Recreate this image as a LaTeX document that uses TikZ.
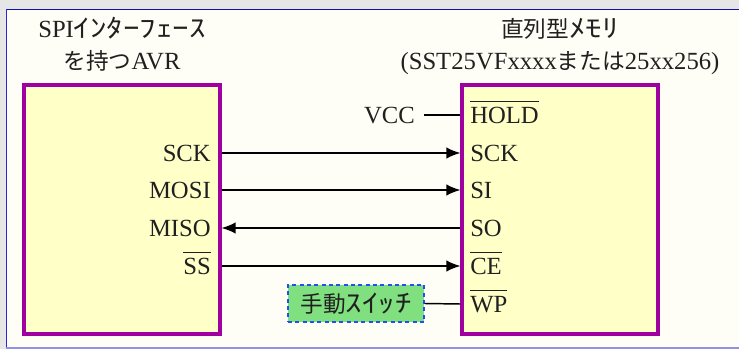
\documentclass[tikz,border=0pt]{standalone}
\usepackage{fontspec}
\usepackage{graphicx}
\setmainfont{Liberation Serif}
\newfontfamily\jpfont{Noto Sans CJK JP}
\usetikzlibrary{arrows.meta}
\newcommand\jtxt[1]{{\jpfont\fontsize{17}{20}\selectfont #1}}
\newcommand\ktxt[1]{\scalebox{1.3}[1]{\jpfont\fontsize{19}{22}\selectfont #1}}
\newcommand\myovl[1]{\vbox{\hrule height 0.8pt\kern 3.5pt\hbox{#1}}}
\definecolor{bggray}{HTML}{E6E6E6}
\definecolor{panelfill}{HTML}{FEFEF6}
\definecolor{topblue}{HTML}{1010B0}
\definecolor{leftblue}{HTML}{2828D8}
\definecolor{botblue}{HTML}{9090E8}
\definecolor{chipline}{HTML}{A000A0}
\definecolor{chipfill}{HTML}{FFFFC8}
\definecolor{swfill}{HTML}{80E080}
\definecolor{swline}{HTML}{2050F0}
\definecolor{inkc}{HTML}{202020}
\tikzset{
  basefont/.style={font=\fontsize{18.5}{22}\selectfont, text=inkc},
  chip/.style={draw=chipline, fill=chipfill, line width=2.3pt, minimum width=147pt, minimum height=186.75pt, inner sep=0pt},
  lab/.style={basefont, inner sep=0pt, text height=12.25pt, text depth=0pt},
  ttl/.style={basefont, inner sep=0pt, anchor=base},
  sig/.style={draw=black, line width=1.1pt},
  tip/.style={-{Latex[length=10.5pt,width=8.5pt]}},
  sw/.style={basefont, draw=swline, fill=swfill, dashed, dash pattern=on 3pt off 2.5pt, line width=1.1pt, minimum width=102pt, minimum height=27.75pt, inner sep=0pt}
}
\begin{document}
\begin{tikzpicture}[x=0.75pt,y=-0.75pt]
\useasboundingbox (0,0) rectangle (739,349);
\fill[bggray] (0,0) rectangle (739,349);
\fill[panelfill] (6,9) rectangle (739,348.5);
\draw[topblue, line width=1.2pt] (6,9.5) -- (739,9.5);
\draw[leftblue, line width=1.2pt] (6.5,9) -- (6.5,349);
\draw[botblue, line width=1pt] (6,348) -- (739,348);

% titles
\node[ttl] (t1) at (122,38) {SPI\ktxt{ｲﾝﾀｰﾌｪｰｽ}};
\node[ttl] (t2) at (122,70) {\jtxt{を持つ}AVR};
\node[ttl] (t3) at (560,38) {\jtxt{直列型}\ktxt{ﾒﾓﾘ}};
\node[ttl] (t4) at (560,70) {(SST25VFxxxx\jtxt{または}25xx256)};

% chips
\node[chip] (avr) at (122,209.5) {};
\node[chip] (mem) at (560,209.5) {};

% left labels
\node[lab, anchor=east] (sck) at (211,153) {SCK};
\node[lab, anchor=east] (mosi) at (211,190) {MOSI};
\node[lab, anchor=east] (miso) at (211,228) {MISO};
\node[lab, anchor=east] (ss) at (211,266) {\myovl{SS}};

% right labels
\node[lab, anchor=west] (hold) at (470,115) {\myovl{HOLD}};
\node[lab, anchor=west] (sckr) at (470,153) {SCK};
\node[lab, anchor=west] (si) at (470,190) {SI};
\node[lab, anchor=west] (so) at (470,228) {SO};
\node[lab, anchor=west] (ce) at (470,266) {\myovl{CE}};
\node[lab, anchor=west] (wp) at (470,304) {\myovl{WP}};

% VCC
\node[lab, anchor=east, inner xsep=6.75pt] (vcc) at (424,115) {VCC};
\draw[sig] (vcc.east) -- (mem.west |- vcc.east);

% switch
\node[sw] (sw) at (356,303.5) {\jtxt{手動}\ktxt{ｽｲｯﾁ}};
\draw[sig] (sw.east) -- (mem.west |- wp);

% signals
\draw[sig, tip] (avr.east |- sck) -- (mem.west |- sckr);
\draw[sig, tip] (avr.east |- mosi) -- (mem.west |- si);
\draw[sig, tip] (mem.west |- so) -- (avr.east |- miso);
\draw[sig, tip] (avr.east |- ss) -- (mem.west |- ce);
\end{tikzpicture}
\end{document}
